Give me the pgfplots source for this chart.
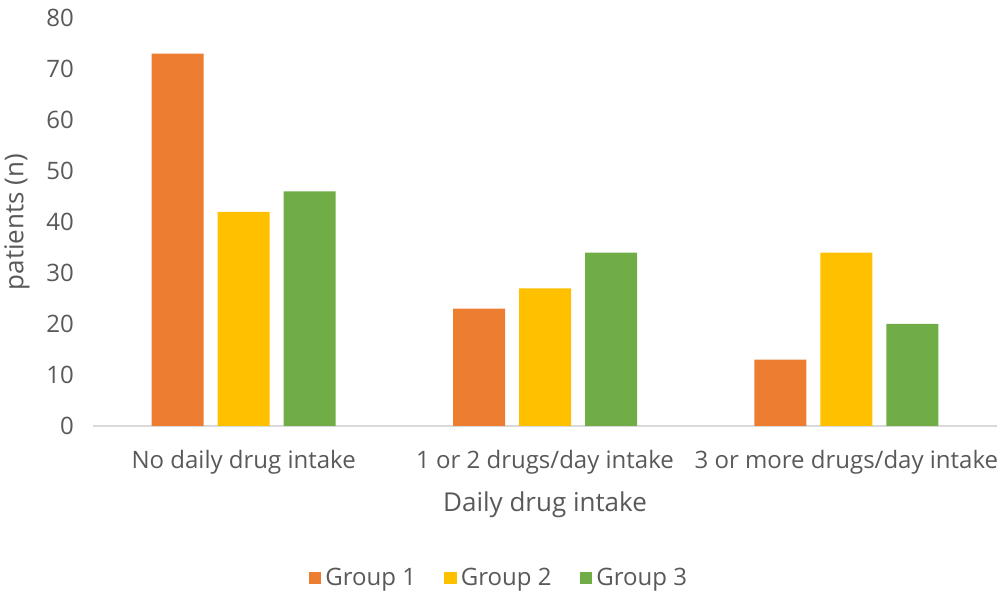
\documentclass[border=0pt]{standalone}
\usepackage{fontspec}
\setmainfont{Open Sans}
\usepackage{pgfplots}
\pgfplotsset{compat=1.18}
\definecolor{grpone}{HTML}{ED7D31}
\definecolor{grptwo}{HTML}{FFC000}
\definecolor{grpthree}{HTML}{70AD47}
\definecolor{txtgray}{HTML}{595959}
\definecolor{linegray}{HTML}{D9D9D9}
\begin{document}
\begin{tikzpicture}
\begin{axis}[
  scale only axis,
  width=452pt, height=204pt,
  ybar=7pt, bar width=26pt,
  xmin=-0.5, xmax=2.5,
  ymin=0, ymax=80,
  xtick={0,1,2},
  xticklabels={No daily drug intake, 1 or 2 drugs/day intake, 3 or more drugs/day intake},
  ytick={0,10,...,80},
  axis lines*=left,
  y axis line style={draw=none},
  x axis line style={draw=linegray, line width=0.8pt, -},
  major tick length=0pt,
  tick label style={font=\fontsize{12}{14}\selectfont, text=txtgray},
  /pgf/number format/assume math mode=true,
  xticklabel style={yshift=-8.5pt},
  yticklabel style={xshift=-6pt},
  xlabel={Daily drug intake},
  ylabel={patients (n)},
  xlabel style={at={(axis description cs:0.5,-0.194)}, anchor=center, font=\fontsize{13}{15}\selectfont, text=txtgray},
  ylabel style={at={(axis description cs:-0.084,0.5)}, anchor=center, font=\fontsize{13}{15}\selectfont, text=txtgray},
  legend columns=3,
  legend style={at={(rel axis cs:0.450,-0.3725)}, anchor=center, draw=none,
    font=\fontsize{12}{14}\selectfont, text=txtgray,
    /tikz/every even column/.append style={column sep=12pt}},
  legend image code/.code={\fill[#1] (0pt,-3.2pt) rectangle (6.4pt,3.2pt);},
]
\addplot[fill=grpone, draw=none] coordinates {(0,73) (1,23) (2,13)};
\addlegendentry{Group 1}
\addplot[fill=grptwo, draw=none] coordinates {(0,42) (1,27) (2,34)};
\addlegendentry{Group 2}
\addplot[fill=grpthree, draw=none] coordinates {(0,46) (1,34) (2,20)};
\addlegendentry{Group 3}
\end{axis}
\pgfresetboundingbox
\path[use as bounding box] ([xshift=-46.5pt,yshift=-86.5pt]current axis.south west) rectangle ([xshift=1.5pt,yshift=9pt]current axis.north east);
\end{tikzpicture}
\end{document}
